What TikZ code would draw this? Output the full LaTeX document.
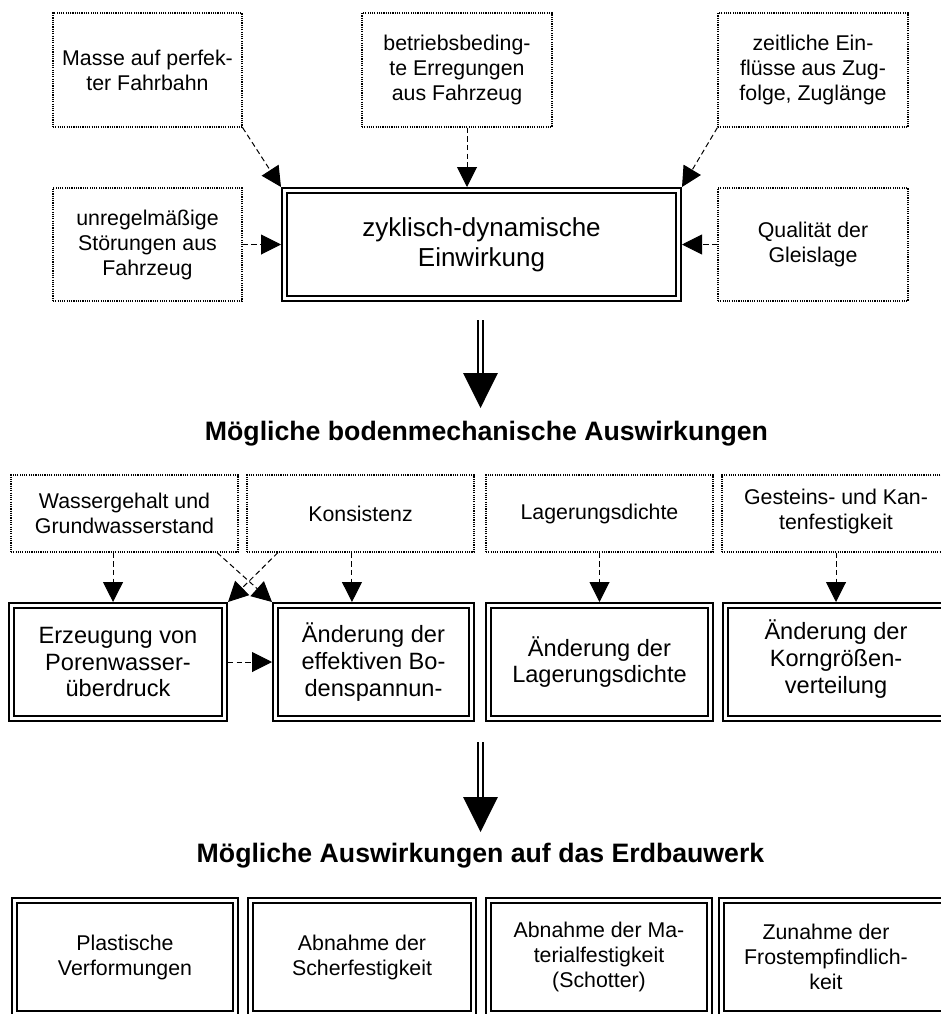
\documentclass[tikz,border=0pt]{standalone}
\usepackage{fontspec}
\setmainfont{Liberation Sans}
\usetikzlibrary{arrows.meta}
\begin{document}
\begin{tikzpicture}[x=0.75pt,y=-0.75pt,
  sz/.style 2 args={minimum width=#1*0.75pt, minimum height=#2*0.75pt},
  srcfont/.style={font=\fontsize{16}{18.75}\selectfont},
  srcbox/.style={draw, line width=0.8pt, dash pattern=on 0.85pt off 0.85pt,
    inner sep=0pt, align=center, srcfont},
  dblbox/.style={draw, line width=1.5pt, double, double distance=2.25pt,
    outer sep=2.625pt, inner sep=0pt, align=center},
  midtext/.style={font=\fontsize{17.7}{20}\selectfont},
  lowtext/.style={font=\fontsize{16}{18.75}\selectfont},
  boxtext/.style={align=center, inner sep=0pt},
  infl/.style={line width=0.75pt, dash pattern=on 4pt off 2.5pt,
    -{Triangle[length=15pt,width=15pt]}},
  title/.style={font=\fontsize{20}{24}\selectfont\bfseries, anchor=base},
  shaft/.style={line width=1.7pt, double, double distance=2.25pt},
  bighead/.style={fill=black}
]
\useasboundingbox (0,0) rectangle (941,1014);
\clip (0,0) rectangle (941,1014);

% --- loading sources ---
\node[srcbox, sz={189}{114}] (masse) at (147.5,70) {Masse auf perfek-\\ter Fahrbahn};
\node[srcbox, sz={190}{114}] (betr)  at (457,70)   {betriebsbeding-\\te Erregungen\\aus Fahrzeug};
\node[srcbox, sz={190}{114}] (zeit)  at (813,70)   {zeitliche Ein-\\flüsse aus Zug-\\folge, Zuglänge};
\node[srcbox, sz={189}{113}] (unreg) at (147.5,244.5) {unregelmäßige\\Störungen aus\\Fahrzeug};
\node[srcbox, sz={190}{113}] (qual)  at (813,244.5) {Qualität der\\Gleislage};
\node[dblbox, sz={394}{108}, font=\fontsize{19.5}{22.5}\selectfont] (main) at (481.5,244.5)
  {zyklisch-dynamische\\Einwirkung};

\draw[infl] (masse.south east) -- (main.north west);
\draw[infl] ([xshift=7.5pt]betr.south) -- ([xshift=7.5pt]betr.south |- main.north);
\draw[infl] (zeit.south west) -- (main.north east);
\draw[infl] (unreg.east) -- (unreg.east -| main.west);
\draw[infl] (qual.west) -- (qual.west -| main.east);

% --- first big arrow ---
\coordinate (b1s) at (480.5,320);
\coordinate (b1e) at (480.5,408);
\draw[shaft] (b1s) -- ([yshift=25pt]b1e);
\fill[bighead] ([shift={(-13.1pt,26.25pt)}]b1e) -- ([shift={(13.1pt,26.25pt)}]b1e) -- (b1e) -- cycle;

\node[title] (t1) at (486.5,440) {Mögliche bodenmechanische Auswirkungen};

% --- soil parameters ---
\node[srcbox, sz={227}{77}] (wasser) at (124.5,513.5) {Wassergehalt und\\Grundwasserstand};
\node[srcbox, sz={227}{77}] (kons)   at (360.5,513.5) {Konsistenz};
\node[srcbox, sz={227}{77}] (lagd)   at (599.5,513.5) {Lagerungsdichte};
\node[srcbox, sz={260}{77}] (gest)   at (852,513.5) {};
\node[boxtext, srcfont] (gest-t) at (836,511) {Gesteins- und Kan-\\tenfestigkeit};

% --- soil mechanical effects ---
\node[dblbox, midtext, sz={213}{113}] (erz)  at (118,662)   {Erzeugung von\\Porenwasser-\\überdruck};
\node[dblbox, midtext, sz={196}{113}] (eff)  at (373.5,662) {Änderung der\\effektiven Bo-\\denspannun-};
\node[dblbox, midtext, sz={222}{113}] (lag)  at (599.5,662) {Änderung der\\Lagerungsdichte};
\node[dblbox, midtext, sz={255}{113}] (korn) at (853,662) {};
\node[boxtext, midtext] (korn-t) at (836,659) {Änderung der\\Korngrößen-\\verteilung};

\draw[infl] ([xshift=-8.6pt]wasser.south) -- ([xshift=-8.6pt]wasser.south |- erz.north);
\draw[infl] ([xshift=69.4pt]wasser.south) -- (eff.north west);
\draw[infl] ([xshift=-61.9pt]kons.south) -- (erz.north east);
\draw[infl] ([xshift=-6.4pt]kons.south) -- ([xshift=-6.4pt]kons.south |- eff.north);
\draw[infl] (lagd.south) -- (lagd.south |- lag.north);
\draw[infl] (gest-t.south |- gest.south) -- (gest-t.south |- korn.north);
\draw[infl] (erz.east) -- (erz.east -| eff.west);

% --- second big arrow ---
\coordinate (b2s) at (480.5,742);
\coordinate (b2e) at (480.5,832);
\draw[shaft] (b2s) -- ([yshift=25pt]b2e);
\fill[bighead] ([shift={(-13.1pt,26.25pt)}]b2e) -- ([shift={(13.1pt,26.25pt)}]b2e) -- (b2e) -- cycle;

\node[title] (t2) at (480.5,862) {Mögliche Auswirkungen auf das Erdbauwerk};

% --- effects on the earthwork ---
\node[dblbox, lowtext, sz={221}{113}] (plast) at (125,957) {Plastische\\Verformungen};
\node[dblbox, lowtext, sz={223}{113}] (scher) at (362,957) {Abnahme der\\Scherfestigkeit};
\node[dblbox, lowtext, sz={221}{113}] (mat)   at (599,957) {Abnahme der Ma-\\terialfestigkeit\\(Schotter)};
\node[dblbox, lowtext, sz={255}{113}] (frost) at (849,957) {};
\node[boxtext, lowtext] (frost-t) at (826,957) {Zunahme der\\Frostempfindlich-\\keit};
\end{tikzpicture}
\end{document}
